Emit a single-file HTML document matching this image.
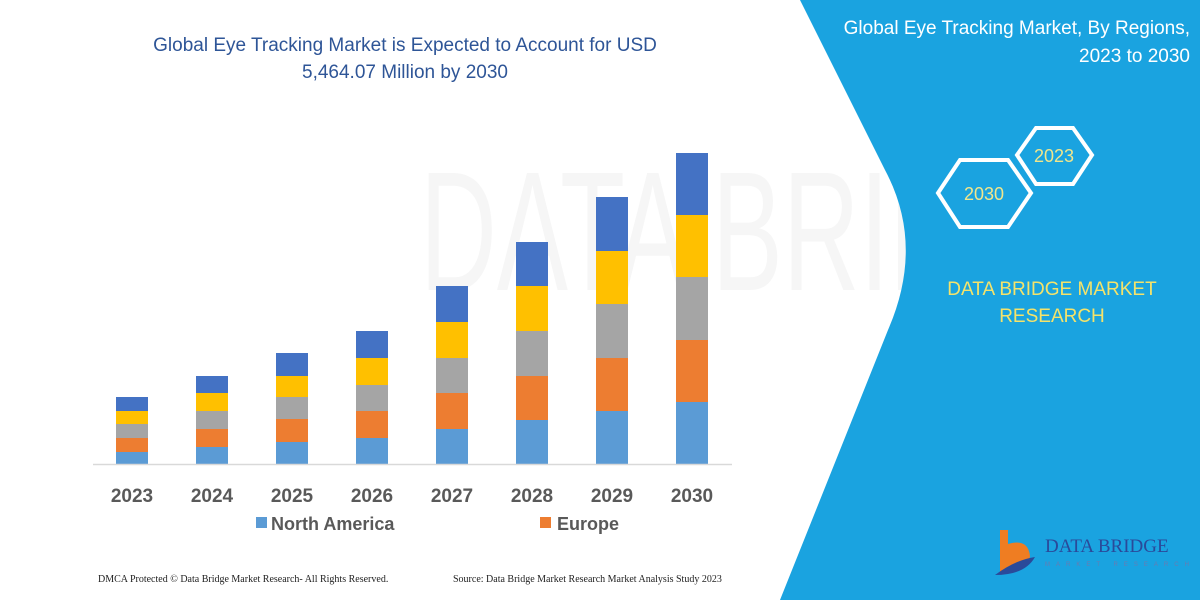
<!DOCTYPE html>
<html><head><meta charset="utf-8"><style>
body{margin:0;width:1200px;height:600px;overflow:hidden;background:#fff;font-family:"Liberation Sans",sans-serif;}
</style></head><body>
<svg width="1200" height="600" xmlns="http://www.w3.org/2000/svg" style="position:absolute;left:0;top:0">
<rect width="1200" height="600" fill="#fff"/>
<text x="420" y="290" font-size="170" fill="#f6f6f6" font-family="Liberation Sans" textLength="700" lengthAdjust="spacingAndGlyphs">DATA BRIDGE</text>
<path d="M800,0 L1200,0 L1200,600 L780,600 L888,330 Q925,245 885,170 Z" fill="#1aa3e0"/>
<text font-family="Liberation Sans" font-size="19" fill="#fff" text-anchor="end"><tspan x="1190" y="34">Global Eye Tracking Market, By Regions,</tspan><tspan x="1190" y="62">2023 to 2030</tspan></text>
<polygon points="1017,155 1036,128 1073,128 1092,155 1073,184 1036,184" fill="none" stroke="#fff" stroke-width="4"/>
<polygon points="938,193 960,160 1008,160 1031,193 1008,227 960,227" fill="none" stroke="#fff" stroke-width="4"/>
<text x="1054" y="162" font-size="18" fill="#f0e68c" text-anchor="middle">2023</text>
<text x="984" y="200" font-size="18" fill="#f0e68c" text-anchor="middle">2030</text>
<text font-size="19" fill="#f5e36a" text-anchor="middle"><tspan x="1052" y="295">DATA BRIDGE MARKET</tspan><tspan x="1052" y="322">RESEARCH</tspan></text>
<path d="M1000,530 h8 v14 q20,-6 22,12 q-2,16 -22,16 h-8z" fill="#ef7d22"/>
<path d="M995,575 q20,-15 40,-18 q-10,18 -40,18z" fill="#2a4a9a"/>
<text x="1045" y="552" font-family="Liberation Serif" font-size="19" fill="#2a4a9a">DATA BRIDGE</text>
<text x="1045" y="566" font-size="6" fill="#6a7ab0" letter-spacing="6">MARKET RESEARCH</text>
<text font-size="19" fill="#2e5597" text-anchor="middle"><tspan x="405" y="51">Global Eye Tracking Market is Expected to Account for USD</tspan><tspan x="405" y="78">5,464.07 Million by 2030</tspan></text>
<g id="bars"></g>
<line x1="93" y1="464.5" x2="732" y2="464.5" stroke="#d9d9d9" stroke-width="1.5"/>
<g font-size="19" font-weight="bold" fill="#595959" text-anchor="middle">
<text x="132" y="502">2023</text><text x="212" y="502">2024</text><text x="292" y="502">2025</text><text x="372" y="502">2026</text><text x="452" y="502">2027</text><text x="532" y="502">2028</text><text x="612" y="502">2029</text><text x="692" y="502">2030</text>
</g>
<rect x="256" y="517" width="11" height="11" fill="#5b9bd5"/>
<text x="271" y="530" font-size="18" font-weight="bold" fill="#595959">North America</text>
<rect x="540" y="517" width="11" height="11" fill="#ed7d31"/>
<text x="557" y="530" font-size="18" font-weight="bold" fill="#595959">Europe</text>
<g font-family="Liberation Serif" font-size="10" fill="#222">
<text x="98" y="582">DMCA Protected © Data Bridge Market Research-  All Rights Reserved.</text>
<text x="453" y="582">Source: Data Bridge Market Research  Market Analysis Study 2023</text>
</g>
</svg>
<script>
var d=[[397,411,424,438,452],[376,393,411,429,447],[353,376,397,419,442],[331,358,385,411,438],[286,322,358,393,429],[242,286,331,376,420],[197,251,304,358,411],[153,215,277,340,402]];
var c=["#4472c4","#ffc000","#a5a5a5","#ed7d31","#5b9bd5"];
var g=document.getElementById("bars"),s="";
d.forEach(function(b,i){var x=116+80*i;for(var k=0;k<5;k++){var y1=b[k],y2=k<4?b[k+1]:464;s+='<rect x="'+x+'" y="'+y1+'" width="32" height="'+(y2-y1)+'" fill="'+c[k]+'"/>';}});
g.innerHTML=s;
</script>
</body></html>
